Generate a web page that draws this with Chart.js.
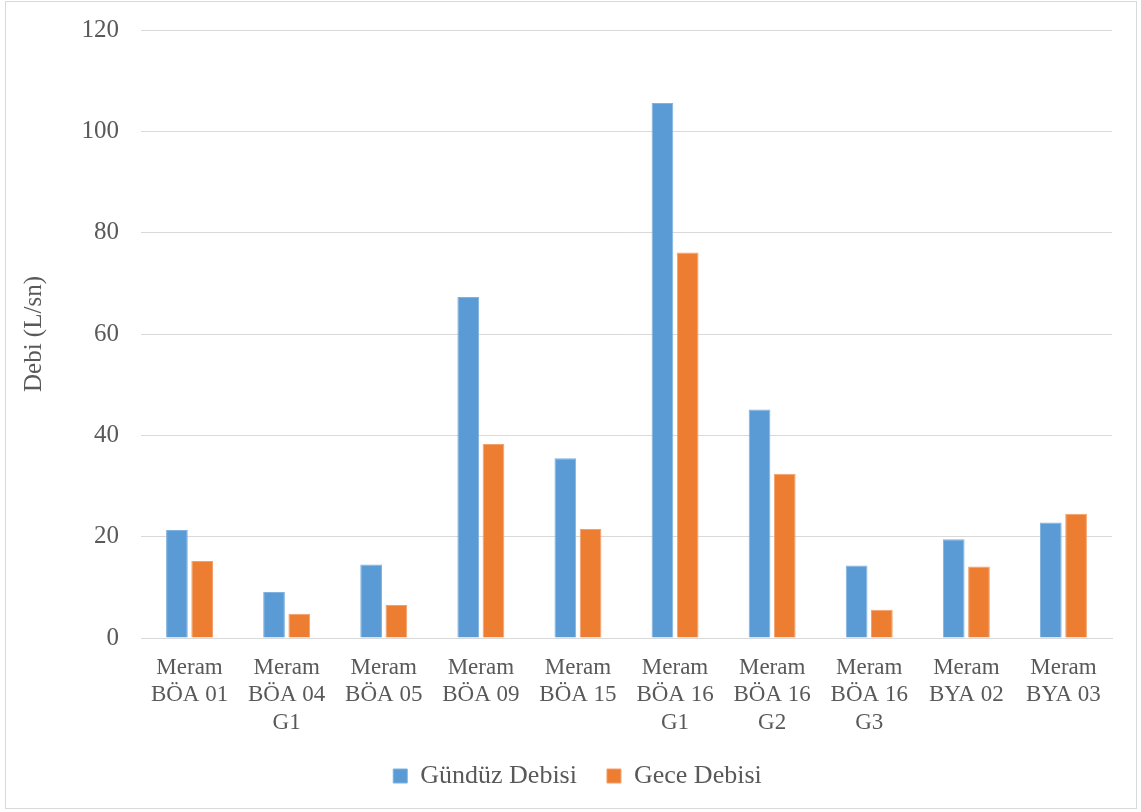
<!DOCTYPE html>
<html>
<head>
<meta charset="utf-8">
<script src="https://cdn.jsdelivr.net/npm/chart.js@4"></script>
<style>
  body { margin: 0; background: #fff; }
  #wrap { position: relative; width: 1141px; height: 812px; }
  #frame { position: absolute; left: 5px; top: 1px; width: 1130px; height: 806px; border: 1px solid #d9d9d9; }
  canvas { position: absolute; left: 0; top: 0; }
</style>
</head>
<body>
<div id="wrap">
  <div id="frame"></div>
  <canvas id="debiChart" width="1141" height="812"></canvas>
</div>
<script>
// Data
const categories = [
    ['Meram', 'BÖA 01'],
    ['Meram', 'BÖA 04', 'G1'],
    ['Meram', 'BÖA 05'],
    ['Meram', 'BÖA 09'],
    ['Meram', 'BÖA 15'],
    ['Meram', 'BÖA 16', 'G1'],
    ['Meram', 'BÖA 16', 'G2'],
    ['Meram', 'BÖA 16', 'G3'],
    ['Meram', 'BYA 02'],
    ['Meram', 'BYA 03']
];
const gunduzDebisi = [21.3, 9.1, 14.5, 67.3, 35.5, 105.6, 45.1, 14.3, 19.5, 22.8];
const geceDebisi = [15.2, 4.8, 6.5, 38.3, 21.5, 76.1, 32.4, 5.6, 14.1, 24.5];
const yTicks = [0, 20, 40, 60, 80, 100, 120];

const textColor = '#595959';
const serif = "'Liberation Serif', 'Times New Roman', serif";

const ctx = document.getElementById('debiChart').getContext('2d');
const debiChart = new Chart(ctx, {
    type: 'bar',
    data: {
        labels: categories,
        datasets: [
            {
                label: 'Gündüz Debisi',
                data: gunduzDebisi,
                backgroundColor: '#5B9BD5',
                borderColor: '#7FB2E0',
                borderWidth: 1
            },
            {
                label: 'Gece Debisi',
                data: geceDebisi,
                backgroundColor: '#ED7D31',
                borderColor: '#F2A06A',
                borderWidth: 1
            }
        ]
    },
    options: {
        responsive: false,
        animation: false,
        layout: {
            padding: { left: 15, right: 1, top: 30, bottom: 13 }
        },
        datasets: {
            bar: { categoryPercentage: 0.52, barPercentage: 0.86 }
        },
        plugins: {
            tooltip: { enabled: false },
            legend: {
                position: 'bottom',
                labels: {
                    color: textColor,
                    font: { family: serif, size: 26 },
                    boxWidth: 14,
                    boxHeight: 14,
                    padding: 30
                }
            }
        },
        scales: {
            x: {
                grid: { display: false, drawTicks: false },
                border: { color: '#d9d9d9', width: 1 },
                ticks: {
                    color: textColor,
                    font: { family: serif, size: 23 },
                    padding: 16,
                    maxRotation: 0,
                    autoSkip: false
                },
                afterFit: function (scale) { scale.height = 95; }
            },
            y: {
                min: 0,
                max: 120,
                afterBuildTicks: function (scale) {
                    scale.ticks = yTicks.map(v => ({ value: v }));
                },
                // tick marks kept invisible, they only push the labels off the axis
                grid: { color: '#d9d9d9', drawTicks: true, tickLength: 22, tickColor: 'rgba(0,0,0,0)' },
                border: { display: false },
                ticks: {
                    color: textColor,
                    font: { family: serif, size: 25 },
                    padding: 0
                },
                title: {
                    display: true,
                    text: 'Debi (L/sn)',
                    color: textColor,
                    font: { family: serif, size: 25 },
                    padding: { top: 4, bottom: 0 }
                },
                afterFit: function (scale) { scale.width = 126; }
            },
            // empty right-hand axis, only to keep a margin right of the plot
            yRight: {
                position: 'right',
                display: true,
                grid: { display: false, drawTicks: false },
                border: { display: false },
                ticks: { display: false },
                afterFit: function (scale) { scale.width = 28; }
            }
        }
    }
});
</script>
</body>
</html>
